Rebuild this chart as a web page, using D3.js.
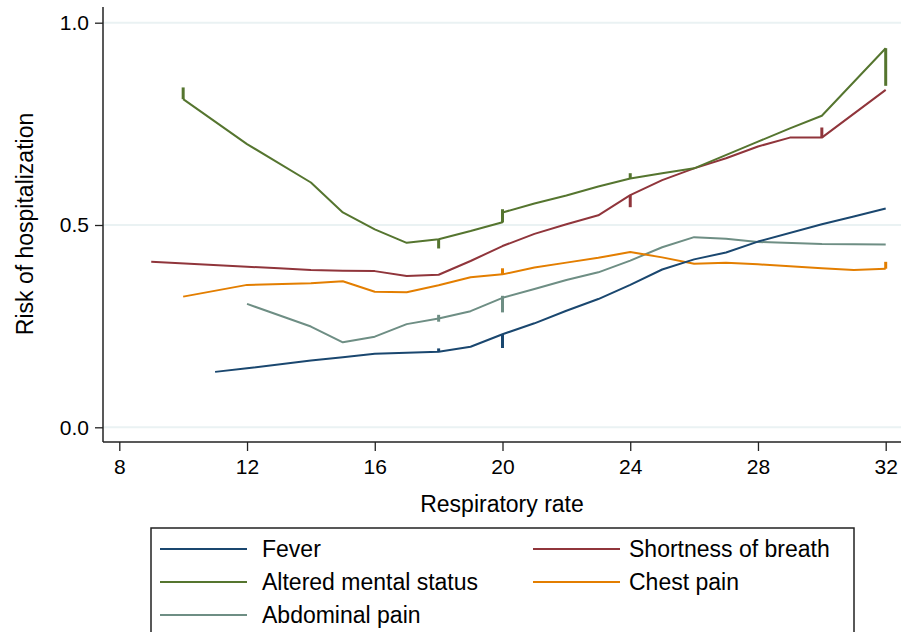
<!DOCTYPE html>
<html>
<head>
<meta charset="utf-8">
<script src="https://cdn.jsdelivr.net/npm/d3@7"></script>
<style>
  body { margin: 0; background: #fff; }
  text { font-family: "Liberation Sans", Arial, sans-serif; fill: #000; }
</style>
</head>
<body>
<div id="chart"></div>
<script>
// series names and colours (legend order)
const seriesNames = ["Fever", "Shortness of breath", "Altered mental status", "Chest pain", "Abdominal pain"];
const seriesColors = ["#1a476f", "#90353b", "#55752f", "#e37e00", "#6e8e84"];

// [respiratory rate, risk]
const fever = [[11,0.137],[12,0.146],[14,0.165],[15,0.173],[16,0.182],[18,0.187],[19,0.199],[20,0.230],[21,0.257],[22,0.288],[23,0.317],[24,0.352],[25,0.390],[26,0.415],[27,0.432],[28,0.459],[30,0.502],[31,0.521],[32,0.541]];
const shortBreath = [[9,0.409],[12,0.397],[13,0.393],[14,0.389],[15,0.387],[16,0.386],[17,0.374],[18,0.377],[19,0.411],[20,0.448],[21,0.478],[22,0.502],[23,0.524],[24,0.574],[25,0.611],[26,0.640],[27,0.665],[28,0.694],[29,0.716],[30,0.716],[32,0.834]];
const alteredMental = [[10,0.811],[12,0.700],[14,0.605],[15,0.531],[16,0.489],[17,0.456],[18,0.465],[19,0.485],[20,0.507],[20,0.531],[21,0.553],[22,0.573],[23,0.595],[24,0.615],[25,0.628],[26,0.640],[28,0.706],[29,0.739],[30,0.770],[32,0.937]];
const chestPain = [[10,0.323],[12,0.352],[14,0.356],[15,0.361],[16,0.335],[17,0.334],[18,0.351],[19,0.371],[20,0.378],[21,0.395],[22,0.407],[23,0.419],[24,0.433],[25,0.420],[26,0.404],[27,0.407],[28,0.403],[30,0.393],[31,0.389],[32,0.392]];
const abdominalPain = [[12,0.305],[14,0.249],[15,0.210],[16,0.224],[17,0.255],[18,0.269],[19,0.287],[20,0.320],[21,0.342],[22,0.364],[23,0.383],[24,0.412],[25,0.445],[26,0.470],[27,0.466],[28,0.458],[30,0.453],[32,0.452]];
const seriesData = [fever, shortBreath, alteredMental, chestPain, abdominalPain];

// vertical jumps where several values share one rate: [series index, rate, low, high]
const spikes = [
  [0, 20, 0.196, 0.230], [0, 18, 0.187, 0.195],
  [2, 10, 0.811, 0.840], [2, 18, 0.442, 0.465], [2, 20, 0.507, 0.539], [2, 24, 0.615, 0.628], [2, 32, 0.844, 0.937],
  [1, 24, 0.544, 0.574], [1, 30, 0.716, 0.741],
  [3, 20, 0.378, 0.393], [3, 32, 0.392, 0.409],
  [4, 18, 0.261, 0.278], [4, 20, 0.284, 0.325]
];

const xTicks = [8, 12, 16, 20, 24, 28, 32];
const yTicks = [0, 0.5, 1];

const w = 912, h = 632;
const svg = d3.select("#chart").append("svg")
  .attr("width", w).attr("height", h);

const xScale = d3.scaleLinear().domain([8, 32]).range([119.3, 885.7]);
const yScale = d3.scaleLinear().domain([0, 1]).range([427.3, 22.7]);

const axisX = 103, axisY = 442, plotRight = 901, plotTop = 7;

// gridlines
svg.append("g").selectAll("line")
  .data(yTicks).enter().append("line")
  .attr("x1", axisX).attr("x2", plotRight)
  .attr("y1", d => yScale(d)).attr("y2", d => yScale(d))
  .attr("stroke", "#eaf2f3").attr("stroke-width", 2);

// axes (ticks from d3, axis lines drawn across the whole frame)
const yAxis = d3.axisLeft(yScale).tickValues(yTicks).tickSize(8).tickPadding(6).tickFormat(d3.format(".1f"));
const gy = svg.append("g").attr("transform", `translate(${axisX},0)`).call(yAxis);
const xAxis = d3.axisBottom(xScale).tickValues(xTicks).tickSize(9).tickPadding(8).tickFormat(d3.format("d"));
const gx = svg.append("g").attr("transform", `translate(0,${axisY})`).call(xAxis);
[gx, gy].forEach(g => {
  g.attr("font-size", 21).attr("font-family", "Liberation Sans, Arial, sans-serif");
  g.select(".domain").remove();
  g.selectAll(".tick line").attr("stroke", "#222").attr("stroke-width", 1.3);
  g.selectAll(".tick text").attr("fill", "#000");
});

svg.append("line").attr("x1", axisX).attr("x2", axisX).attr("y1", plotTop).attr("y2", axisY)
  .attr("stroke", "#222").attr("stroke-width", 1.5);
svg.append("line").attr("x1", axisX).attr("x2", plotRight).attr("y1", axisY).attr("y2", axisY)
  .attr("stroke", "#222").attr("stroke-width", 1.5);

// axis titles
svg.append("text").attr("x", 502).attr("y", 512).attr("text-anchor", "middle")
  .attr("font-size", 23).text("Respiratory rate");
svg.append("text").attr("transform", "translate(33,224) rotate(-90)").attr("text-anchor", "middle")
  .attr("font-size", 23).text("Risk of hospitalization");

// lines
const line = d3.line().x(d => xScale(d[0])).y(d => yScale(d[1]));
const drawOrder = [4, 3, 1, 0, 2];
drawOrder.forEach(i => {
  svg.append("path").datum(seriesData[i])
    .attr("d", line)
    .attr("fill", "none")
    .attr("stroke", seriesColors[i])
    .attr("stroke-width", 2)
    .attr("stroke-linejoin", "round");
});

svg.append("g").selectAll("line")
  .data(spikes).enter().append("line")
  .attr("x1", d => xScale(d[1])).attr("x2", d => xScale(d[1]))
  .attr("y1", d => yScale(d[2])).attr("y2", d => yScale(d[3]))
  .attr("stroke", d => seriesColors[d[0]])
  .attr("stroke-width", 3);

// legend
const legend = svg.append("g");
legend.append("rect").attr("x", 151).attr("y", 528).attr("width", 703).attr("height", 130)
  .attr("fill", "#fff").attr("stroke", "#222").attr("stroke-width", 1.5);

const legendPos = [[0, 0], [1, 0], [0, 1], [1, 1], [0, 2]];
const legendOrder = [0, 1, 2, 3, 4];
legendOrder.forEach((s, k) => {
  const col = legendPos[k][0], row = legendPos[k][1];
  const lx = 160 + col * 373, ly = 549 + row * 33;
  legend.append("line").attr("x1", lx).attr("x2", lx + 87).attr("y1", ly).attr("y2", ly)
    .attr("stroke", seriesColors[s]).attr("stroke-width", 2);
  legend.append("text").attr("x", lx + (col ? 96 : 102)).attr("y", ly + 8).attr("font-size", 23).text(seriesNames[s]);
});
</script>
</body>
</html>
